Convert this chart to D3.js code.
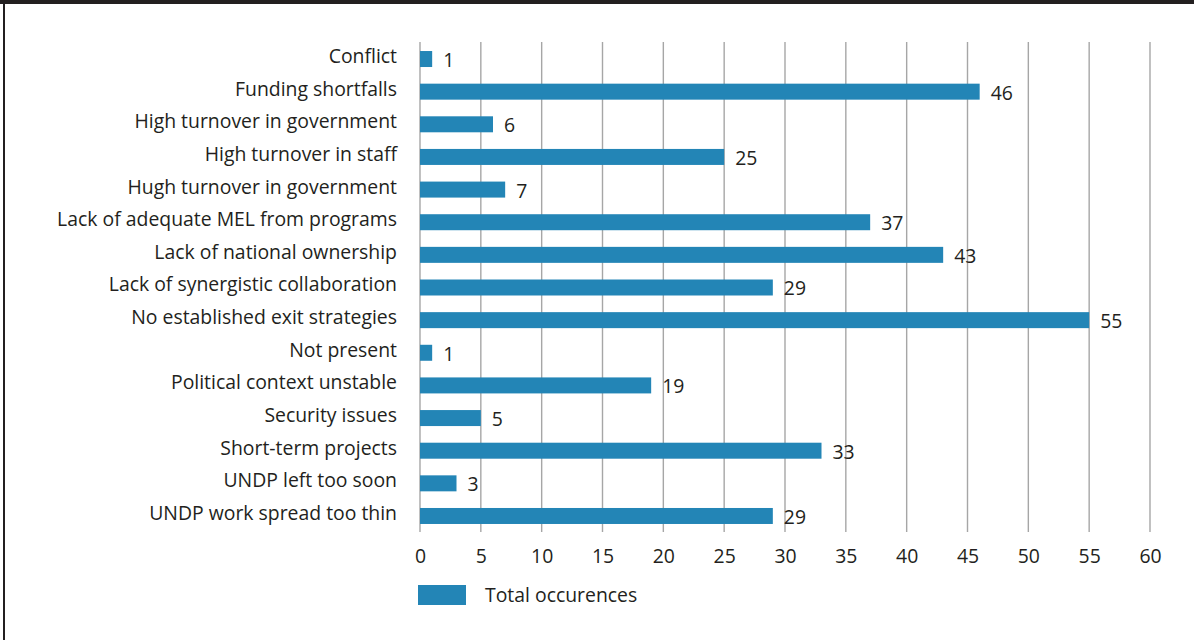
<!DOCTYPE html>
<html>
<head>
<meta charset="utf-8">
<script src="https://cdn.jsdelivr.net/npm/d3@7"></script>
<style>
  html, body { margin: 0; padding: 0; background: #fff; }
  svg { display: block; font-family: "Open Sans", "Noto Sans", sans-serif; }
</style>
</head>
<body>
<svg id="chart" width="1194" height="640"></svg>
<script>
// Reported sustainability challenges and how often each was cited
const categories = [
  "Conflict",
  "Funding shortfalls",
  "High turnover in government",
  "High turnover in staff",
  "Hugh turnover in government",
  "Lack of adequate MEL from programs",
  "Lack of national ownership",
  "Lack of synergistic collaboration",
  "No established exit strategies",
  "Not present",
  "Political context unstable",
  "Security issues",
  "Short-term projects",
  "UNDP left too soon",
  "UNDP work spread too thin"
];
const occurrences = [1, 46, 6, 25, 7, 37, 43, 29, 55, 1, 19, 5, 33, 3, 29];
const xTicks = [0, 5, 10, 15, 20, 25, 30, 35, 40, 45, 50, 55, 60];
const seriesName = "Total occurences";

const svg = d3.select("#chart");
const W = 1194, H = 640;
const barColor = "#2385b6";
const textColor = "#231f20";
const fontSize = 19.4;

// frame: dark band on top, thin rule on the left
svg.append("rect").attr("x", 0).attr("y", 0).attr("width", W).attr("height", 4).attr("fill", "#231f20");
svg.append("rect").attr("x", 3).attr("y", 0).attr("width", 2).attr("height", H).attr("fill", "#231f20");

const x = d3.scaleLinear().domain([0, 60]).range([420, 1150]);
const y = d3.scaleBand().domain(categories).range([42.7, 532.3]).paddingInner(0.51).paddingOuter(0.255);

// vertical gridlines
svg.append("g").selectAll("line").data(xTicks).join("line")
  .attr("x1", d => x(d)).attr("x2", d => x(d))
  .attr("y1", 42).attr("y2", 532)
  .attr("stroke", "#a6a6a6").attr("stroke-width", 1.4);

// bars
svg.append("g").selectAll("rect").data(categories).join("rect")
  .attr("x", x(0))
  .attr("y", d => y(d))
  .attr("width", (d, i) => x(occurrences[i]) - x(0))
  .attr("height", y.bandwidth())
  .attr("fill", barColor);

// value labels
svg.append("g").selectAll("text").data(categories).join("text")
  .attr("x", (d, i) => x(occurrences[i]) + 11)
  .attr("y", d => y(d) + y.bandwidth() / 2 + 1)
  .attr("dy", "0.36em")
  .attr("font-size", fontSize)
  .attr("fill", textColor)
  .text((d, i) => occurrences[i]);

// category axis labels
svg.append("g").selectAll("text").data(categories).join("text")
  .attr("x", 397)
  .attr("y", d => y(d) + y.bandwidth() / 2 - 3)
  .attr("text-anchor", "end")
  .attr("dy", "0.36em")
  .attr("font-size", fontSize)
  .attr("fill", textColor)
  .text(d => d);

// x axis tick labels
const xAxis = d3.axisBottom(x).tickValues(xTicks).tickSize(0).tickPadding(0);
const gx = svg.append("g").attr("transform", "translate(0,556)").call(xAxis);
gx.select(".domain").remove();
gx.selectAll("text")
  .attr("dy", "0.36em")
  .attr("font-size", fontSize)
  .attr("font-family", "\"Open Sans\", \"Noto Sans\", sans-serif")
  .attr("fill", textColor);

// legend
svg.append("rect").attr("x", 418).attr("y", 585).attr("width", 48).attr("height", 20).attr("fill", barColor);
svg.append("text").attr("x", 485).attr("y", 595).attr("dy", "0.36em")
  .attr("font-size", fontSize).attr("fill", textColor).text(seriesName);
</script>
</body>
</html>
